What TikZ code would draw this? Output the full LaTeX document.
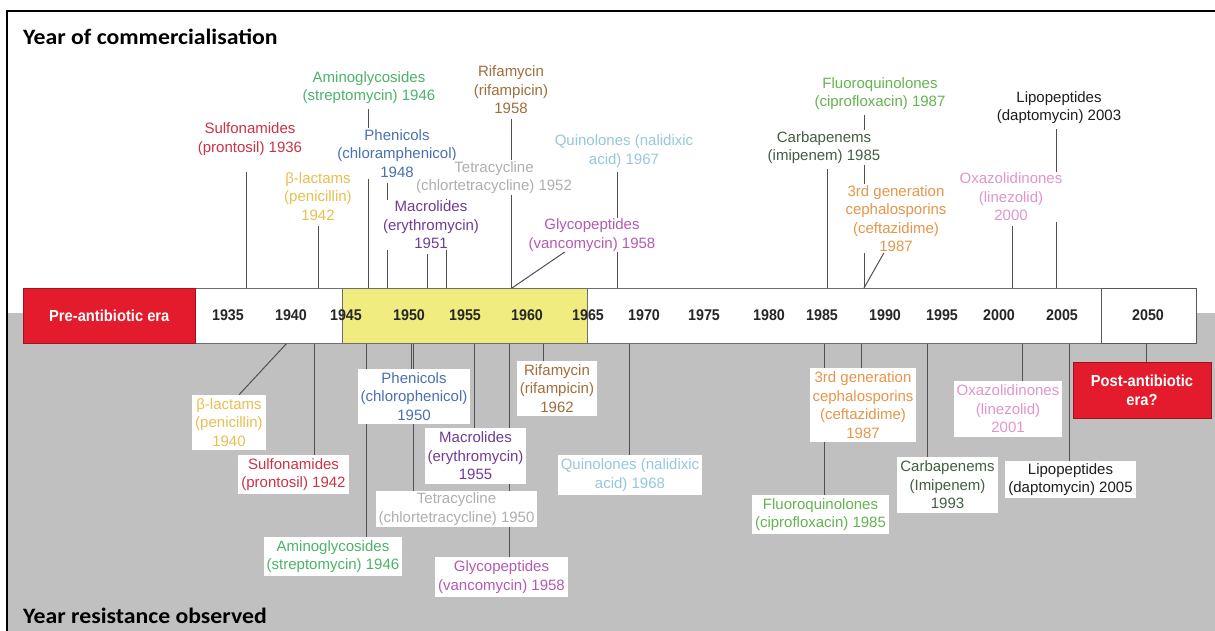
\documentclass[tikz,border=0pt]{standalone}
\usepackage{fontspec}
\setmainfont{Liberation Sans}
\newfontfamily\titlefont[FakeStretch=1.08]{Carlito}
\newfontfamily\barfont[FakeStretch=0.92]{Liberation Sans}

\definecolor{bggray}{RGB}{192,192,192}
\definecolor{linegray}{RGB}{80,80,80}
\definecolor{bargray}{RGB}{110,110,110}
\definecolor{erared}{RGB}{227,27,45}
\definecolor{erayellow}{RGB}{240,236,128}
\definecolor{csulf}{RGB}{204,51,68}
\definecolor{cbeta}{RGB}{232,192,80}
\definecolor{camino}{RGB}{77,179,106}
\definecolor{cphen}{RGB}{74,112,176}
\definecolor{cmacro}{RGB}{110,60,150}
\definecolor{ctetra}{RGB}{175,175,175}
\definecolor{crifa}{RGB}{160,110,60}
\definecolor{cglyco}{RGB}{180,90,180}
\definecolor{cquin}{RGB}{150,200,220}
\definecolor{ccarb}{RGB}{65,95,65}
\definecolor{cfluo}{RGB}{100,180,80}
\definecolor{cceph}{RGB}{230,150,74}
\definecolor{coxa}{RGB}{225,150,200}
\definecolor{clipo}{RGB}{30,30,30}

\pgfdeclarelayer{bg}
\pgfdeclarelayer{lines}
\pgfsetlayers{bg,lines,main}

\tikzset{
  lbl/.style={align=center, font=\fontsize{15}{18.5}\selectfont},
  toplbl/.style={lbl, fill=white, inner sep=1pt},
  botlbl/.style={lbl, fill=white, inner xsep=3pt, inner ysep=3.5pt},
  conn/.style={draw=linegray, line width=1pt},
  barbox/.style={draw=bargray, line width=0.8pt, inner sep=0pt, anchor=north west, minimum height=55pt},
  yr/.style={font=\barfont\bfseries\fontsize{15.5}{16}\selectfont, text=black!85, inner sep=0pt},
  erabox/.style={fill=erared, draw=erared!70!black, line width=0.6pt, text=white,
    font=\barfont\bfseries\fontsize{16}{19}\selectfont, align=center, inner sep=0pt},
  heading/.style={font=\titlefont\bfseries\fontsize{22}{25}\selectfont, anchor=base west, inner sep=0pt}
}

\begin{document}
\begin{tikzpicture}[x=1pt,y=-1pt]
\useasboundingbox (0,0) rectangle (1215,631);

% page, lower half shading and frame
\begin{pgfonlayer}{bg}
  \fill[white] (0,0) rectangle (1215,631);
  \fill[bggray] (7,313) rectangle (1215,631);
  \draw[black, line width=2pt] (7,632) -- (7,11) -- (1216,11);
\end{pgfonlayer}

% headings
\node[heading] (headtop) at (23,45) {Year of commercialisation};
\node[heading] (headbot) at (23,623) {Year resistance observed};

% timeline bar
\node[barbox, fill=white, minimum width=906pt] (bar) at (195,288) {};
\node[barbox, fill=erayellow, minimum width=245pt] (golden) at (342,288) {};
\node[barbox, fill=white, minimum width=95pt, draw=bargray!80!black] (future) at (1101,288) {};
\node[erabox, minimum width=172pt, minimum height=55pt, anchor=north west] (pre) at (23,288) {Pre-antibiotic era};

\foreach \yy/\xx in {1935/228,1940/291,1945/346,1950/409,1955/465,1960/527,1965/588,
                     1970/644,1975/704,1980/769,1985/822,1990/885,1995/942,2000/999,2005/1062,2050/1148}
  \node[yr] (y\yy) at (\xx,315) {\yy};

% ticks on the upper and lower edge of the bar
\foreach \n/\xx in {sulf/246,beta/318,amino/368,phen/387,macro/427,tetra/446,rifa/511,glyco/512,
                    quin/617,carb/827,fluo/864,ceph/864,oxa/1012,lipo/1056}
  \coordinate (u\n) at (\xx,288);
\foreach \n/\xx in {beta/287,sulf/314,amino/366,phen/411,tetra/413,macro/474,glyco/509,rifa/543,
                    quin/629,fluo/824,ceph/861,carb/927,oxa/1022,lipo/1069,post/1146}
  \coordinate (d\n) at (\xx,343);

% year of commercialisation
\node[toplbl, text=csulf]  (sulfT)  at (250,139)   {Sulfonamides\\(prontosil) 1936};
\node[toplbl, text=camino] (aminoT) at (369,87.5)  {Aminoglycosides\\(streptomycin) 1946};
\node[toplbl, text=cphen]  (phenT)  at (397,153.5) {Phenicols\\(chloramphenicol)\\1948};
\node[toplbl, text=cbeta]  (betaT)  at (318,196.5) {β-lactams\\(penicillin)\\1942};
\node[toplbl, text=cmacro] (macroT) at (431,225)   {Macrolides\\(erythromycin)\\1951};
\node[toplbl, text=ctetra] (tetraT) at (494,177.5) {Tetracycline\\(chlortetracycline) 1952};
\node[toplbl, text=crifa]  (rifaT)  at (511,90)    {Rifamycin\\(rifampicin)\\1958};
\node[toplbl, text=cquin]  (quinT)  at (624,151)   {Quinolones (nalidixic\\acid) 1967};
\node[toplbl, text=cglyco] (glycoT) at (592,235)   {Glycopeptides\\(vancomycin) 1958};
\node[toplbl, text=ccarb]  (carbT)  at (824,147.5) {Carbapenems\\(imipenem) 1985};
\node[toplbl, text=cfluo]  (fluoT)  at (880,93.5)  {Fluoroquinolones\\(ciprofloxacin) 1987};
\node[toplbl, text=cceph]  (cephT)  at (896,218.5) {3rd generation\\cephalosporins\\(ceftazidime)\\1987};
\node[toplbl, text=coxa]   (oxaT)   at (1011,197)  {Oxazolidinones\\(linezolid)\\2000};
\node[toplbl, text=clipo]  (lipoT)  at (1059,107.5){Lipopeptides\\(daptomycin) 2003};

% year resistance observed
\node[botlbl, text=cbeta]  (betaB)  at (229,422.5) {β-lactams\\(penicillin)\\1940};
\node[botlbl, text=csulf]  (sulfB)  at (293.5,474.5) {Sulfonamides\\(prontosil) 1942};
\node[botlbl, text=camino] (aminoB) at (333,556.5) {Aminoglycosides\\(streptomycin) 1946};
\node[botlbl, text=cphen]  (phenB)  at (414,396.5) {Phenicols\\(chlorophenicol)\\1950};
\node[botlbl, text=cmacro] (macroB) at (475.5,456) {Macrolides\\(erythromycin)\\1955};
\node[botlbl, text=ctetra, inner ysep=2pt] (tetraB) at (456.5,509) {Tetracycline\\(chlortetracycline) 1950};
\node[botlbl, text=cglyco] (glycoB) at (501.5,577) {Glycopeptides\\(vancomycin) 1958};
\node[botlbl, text=crifa]  (rifaB)  at (557,388.5) {Rifamycin\\(rifampicin)\\1962};
\node[botlbl, text=cquin]  (quinB)  at (630,475)   {Quinolones (nalidixic\\acid) 1968};
\node[botlbl, text=cceph]  (cephB)  at (863,405)   {3rd generation\\cephalosporins\\(ceftazidime)\\1987};
\node[botlbl, text=cfluo]  (fluoB)  at (820.5,514.5) {Fluoroquinolones\\(ciprofloxacin) 1985};
\node[botlbl, text=ccarb]  (carbB)  at (947.5,485) {Carbapenems\\(Imipenem)\\1993};
\node[botlbl, text=coxa]   (oxaB)   at (1008,409)  {Oxazolidinones\\(linezolid)\\2001};
\node[botlbl, text=clipo, inner ysep=2.5pt] (lipoB) at (1070.5,479.5) {Lipopeptides\\(daptomycin) 2005};
\node[erabox, minimum width=138pt, minimum height=56pt] (postB) at (1142,390) {Post-antibiotic\\era?};

% connectors, kept beneath the labels
\begin{pgfonlayer}{lines}
  \draw[conn, shorten >=16pt] (usulf) -- (usulf |- sulfT.south);
  \foreach \n in {beta,amino,phen,macro,tetra,rifa,quin,carb,fluo,oxa,lipo}
    \draw[conn, shorten >=4pt] (u\n) -- (u\n |- \n T.south);
  \draw[conn] (uglyco) -- ([xshift=-25pt,yshift=2pt]glycoT.south);
  \draw[conn] (uceph) -- ([xshift=-11pt,yshift=2pt]cephT.south);

  \foreach \n in {sulf,amino,phen,tetra,macro,glyco,rifa,quin,fluo,ceph,carb,oxa,lipo,post}
    \draw[conn] (d\n) -- (d\n |- \n B.north);
  \draw[conn] (dbeta) -- ([xshift=10pt]betaB.north);
\end{pgfonlayer}
\end{tikzpicture}
\end{document}
